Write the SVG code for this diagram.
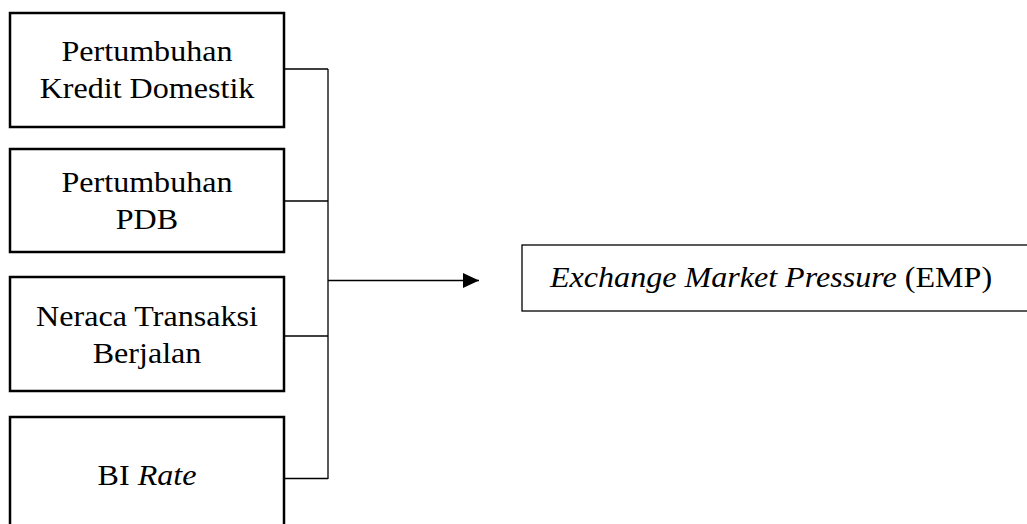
<svg xmlns="http://www.w3.org/2000/svg" width="1027" height="524" viewBox="0 0 1027 524">
<defs>
<style>
.box{fill:#fff;stroke:#000;stroke-width:2.5}
.emp{fill:#fff;stroke:#000;stroke-width:1.3}
.c{fill:none;stroke:#000;stroke-width:1.3}
</style>
<marker id="ah" markerWidth="16" markerHeight="15" refX="16" refY="7.5" orient="auto" markerUnits="userSpaceOnUse">
<path d="M0,0 L16,7.5 L0,15 Z" fill="#000"/>
</marker>
</defs>
<rect width="1027" height="524" fill="#fff"/>
<g id="n1">
<rect class="box" x="10" y="13" width="274" height="114"/>
<g transform="matrix(1.07 0 0 1 -10.29 0)">
<text x="147" y="61.5" font-family="Liberation Serif" font-size="30" text-anchor="middle">Pertumbuhan</text>
<text x="147" y="98.5" font-family="Liberation Serif" font-size="30" text-anchor="middle">Kredit Domestik</text></g>
</g>
<g id="n2">
<rect class="box" x="10" y="149" width="274" height="103"/>
<g transform="matrix(1.07 0 0 1 -10.29 0)">
<text x="147" y="192.5" font-family="Liberation Serif" font-size="30" text-anchor="middle">Pertumbuhan</text>
<text x="147" y="229.5" font-family="Liberation Serif" font-size="30" text-anchor="middle">PDB</text></g>
</g>
<g id="n3">
<rect class="box" x="10" y="277" width="274" height="114"/>
<g transform="matrix(1.07 0 0 1 -10.29 0)">
<text x="147" y="326.5" font-family="Liberation Serif" font-size="30" text-anchor="middle">Neraca Transaksi</text>
<text x="147" y="363.5" font-family="Liberation Serif" font-size="30" text-anchor="middle">Berjalan</text></g>
</g>
<g id="n4">
<rect class="box" x="10" y="417" width="274" height="120"/>
<g transform="matrix(1.07 0 0 1 -10.29 0)">
<text x="147" y="485" font-family="Liberation Serif" font-size="30" text-anchor="middle">BI <tspan font-family="Liberation Serif" font-style="italic">Rate</tspan></text></g>
</g>
<g id="n5">
<rect class="emp" x="522" y="245" width="520" height="66"/>
<g transform="matrix(1.07 0 0 1 -38.5 0)">
<text x="550" y="287" font-family="Liberation Serif" font-size="30"><tspan font-family="Liberation Serif" font-style="italic">Exchange Market Pressure</tspan> (EMP)</text></g>
</g>
<g id="connectors">
<path class="c" d="M284,69 H328 M284,201 H328 M284,336 H328 M284,478.5 H328 M328,69 V479"/>
<path class="c" d="M328,280.5 H479" marker-end="url(#ah)"/>
</g>
</svg>
